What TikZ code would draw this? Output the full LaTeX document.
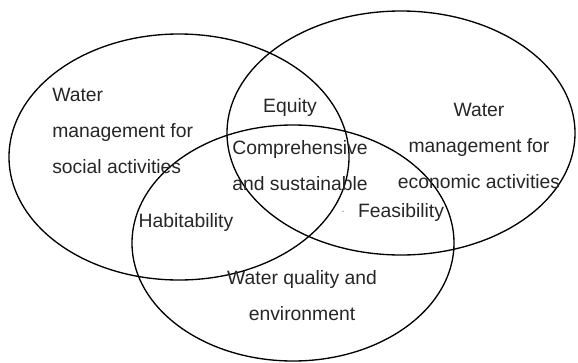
\documentclass[tikz,border=0pt]{standalone}
\usepackage{fontspec}
\setmainfont{Liberation Sans}
\usepackage{tikz}
\usetikzlibrary{calc,positioning}

\tikzset{
  venn/.style={line width=1pt},
  lbl/.style={inner sep=0pt, anchor=base, font=\fontsize{14.5}{27}\selectfont, text=black!85},
}

\begin{document}
\begin{tikzpicture}[x=0.75pt, y=0.75pt]
\useasboundingbox (0,0) rectangle (578,362);
\coordinate (cS) at (179,205);
\coordinate (cE) at (401,229);
\coordinate (cQ) at (293,119);
%
\draw[venn] (cS) ellipse [x radius=170, y radius=123];
\draw[venn] (cE) ellipse [x radius=174, y radius=122];
\draw[venn] (cQ) ellipse [x radius=161, y radius=118];
%
% multi-line labels sit on the baseline of their last line
\node[lbl, anchor=base west, align=left] (social) at (52,189) {Water\\management for\\social activities};
\node[lbl, align=center] (economic) at (479,174) {Water\\management for\\economic activities};
\node[lbl, align=center] (quality) at (302,42) {Water quality and\\environment};
%
\node[lbl] (equity) at (290,250) {Equity};
\node[lbl, align=center] (compsus) at (300,172) {Comprehensive\\and sustainable};
\node[lbl] (habit) at (186,135) {Habitability};
\node[lbl] (feas) at (401,145) {Feasibility};
\node[lbl, text=black!50, font=\footnotesize] (dot) at (343,150) {.};
\end{tikzpicture}
\end{document}
